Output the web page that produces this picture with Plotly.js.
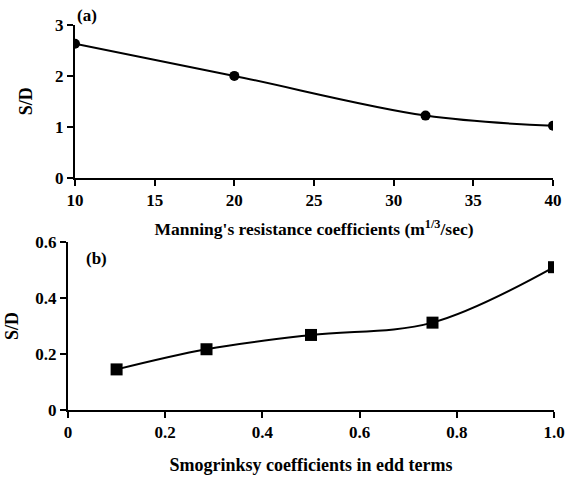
<!DOCTYPE html>
<html>
<head>
<meta charset="utf-8">
<script src="https://cdn.plot.ly/plotly-3.0.1.min.js"></script>
<style>html,body{margin:0;padding:0;background:#fff;}#chart{width:572px;height:480px;}</style>
</head>
<body>
<div id="chart"></div>
<script>
// Panel (a)
const manningX = [10, 20, 32, 40];
const manningSD = [2.63, 2.0, 1.22, 1.02];
const manningTicks = [10, 15, 20, 25, 30, 35, 40];
const sdTicksA = [0, 1, 2, 3];
// Panel (b)
const smagX = [0.1, 0.285, 0.5, 0.75, 1.0];
const smagSD = [0.145, 0.217, 0.268, 0.312, 0.51];
const smagTicks = [0, 0.2, 0.4, 0.6, 0.8, 1.0];
const smagTickText = ['0', '0.2', '0.4', '0.6', '0.8', '1.0'];
const sdTicksB = [0, 0.2, 0.4, 0.6];
const sdTickTextB = ['0', '0.2', '0.4', '0.6'];

const FAM = '"Liberation Serif", "Times New Roman", serif';
const FONT = {family: FAM, size: 17, color: '#000', weight: 'bold'};
const TFONT = {family: FAM, size: 18, color: '#000', weight: 'bold'};
const TFONT_A = {family: FAM, size: 17.5, color: '#000', weight: 'bold'};
const W = 572, H = 480;

const axBase = {
  showline: true, linecolor: '#000', linewidth: 2,
  ticks: 'outside', tickcolor: '#000', tickwidth: 2, ticklen: 6,
  showgrid: false, zeroline: false, tickfont: FONT, automargin: false
};

const data = [
  {x: manningX, y: manningSD, xaxis: 'x', yaxis: 'y', mode: 'lines+markers',
   line: {shape: 'spline', color: '#000', width: 2},
   marker: {symbol: 'circle', size: 10, color: '#000'}},
  {x: smagX, y: smagSD, xaxis: 'x2', yaxis: 'y2', mode: 'lines+markers',
   line: {shape: 'spline', color: '#000', width: 2},
   marker: {symbol: 'square', size: 12, color: '#000'}}
];

const layout = {
  width: W, height: H, margin: {l: 0, r: 0, t: 0, b: 0},
  paper_bgcolor: '#fff', plot_bgcolor: 'rgba(0,0,0,0)', showlegend: false,
  font: FONT,
  xaxis: Object.assign({}, axBase, {
    domain: [75 / W, 553 / W], range: [10, 40], tickvals: manningTicks,
    anchor: 'y',
    title: {text: "Manning's resistance coefficients (m<sup>1/3</sup>/sec)", font: TFONT_A, standoff: 14}
  }),
  yaxis: Object.assign({}, axBase, {
    domain: [1 - 177.7 / H, 1 - 25 / H], range: [0, 3], tickvals: sdTicksA,
    anchor: 'x',
    title: {text: 'S/D', font: TFONT, standoff: 18}
  }),
  xaxis2: Object.assign({}, axBase, {
    domain: [68 / W, 554 / W], range: [0, 1], tickvals: smagTicks, ticktext: smagTickText,
    anchor: 'y2',
    title: {text: 'Smogrinksy coefficients in edd terms', font: TFONT, standoff: 17}
  }),
  yaxis2: Object.assign({}, axBase, {
    domain: [1 - 410 / H, 1 - 242 / H], range: [0, 0.6], tickvals: sdTicksB, ticktext: sdTickTextB,
    anchor: 'x2',
    title: {text: 'S/D', font: TFONT, standoff: 12}
  }),
  annotations: [
    {text: '(a)', xref: 'paper', yref: 'paper', x: 75 / W, y: 1 - 15 / H, xanchor: 'left', yanchor: 'middle', showarrow: false, font: FONT},
    {text: '(b)', xref: 'paper', yref: 'paper', x: 84 / W, y: 1 - 258 / H, xanchor: 'left', yanchor: 'middle', showarrow: false, font: FONT}
  ]
};

Plotly.newPlot('chart', data, layout, {displayModeBar: false, staticPlot: true});
</script>
</body>
</html>
